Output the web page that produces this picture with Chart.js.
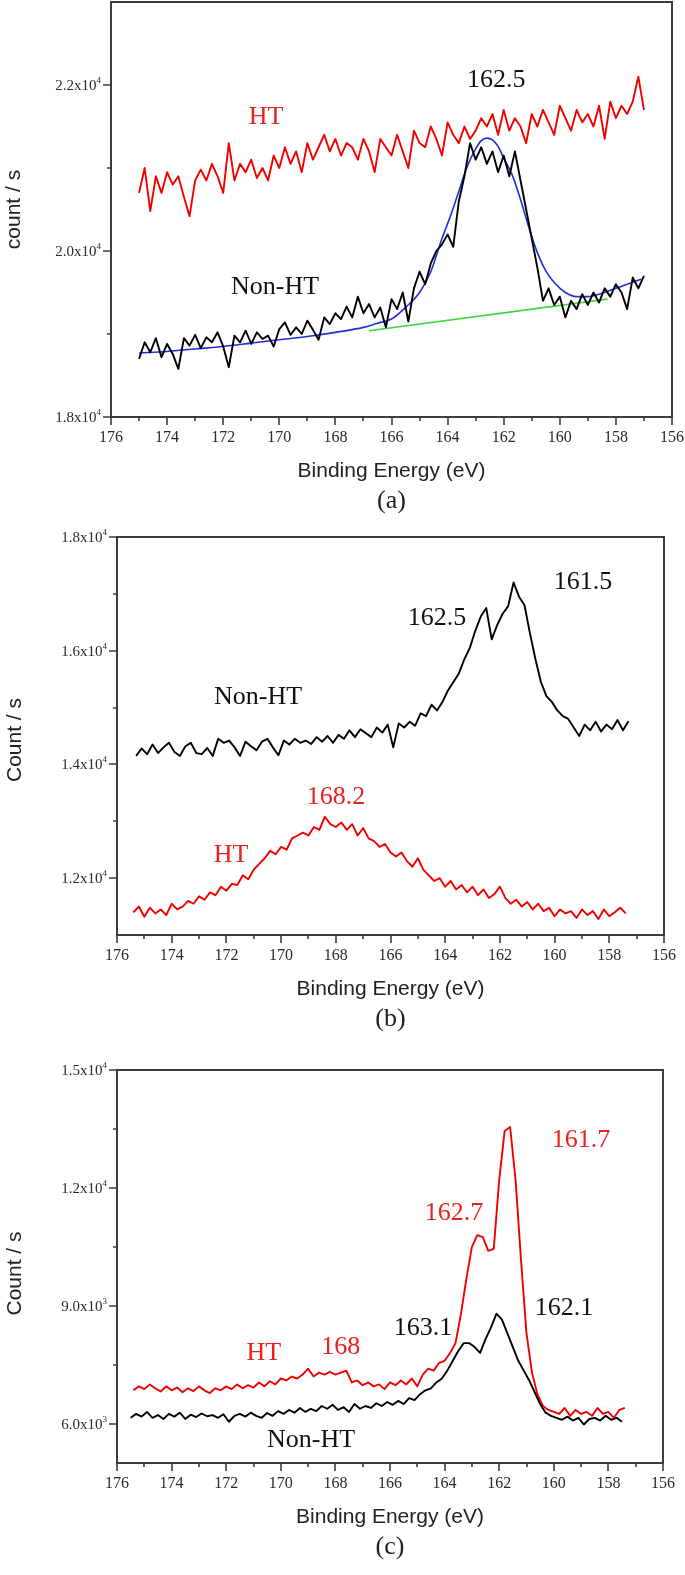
<!DOCTYPE html>
<html><head><meta charset="utf-8">
<script src="https://cdn.jsdelivr.net/npm/chart.js@4.4.0/dist/chart.umd.min.js"></script>
<style>
html,body{margin:0;padding:0;background:#fff;}
#wrap{position:relative;width:685px;height:1575px;}
canvas{position:absolute;left:0;}
</style></head><body>
<div id="wrap">
<canvas id="ca" width="685" height="520" style="top:0px"></canvas>
<canvas id="cb" width="685" height="520" style="top:520px"></canvas>
<canvas id="cc" width="685" height="535" style="top:1040px"></canvas>
</div>
<script>
// ---------- shared axis ----------
const xMajorTicks = [176,174,172,170,168,166,164,162,160,158,156];
const xMinorTicks = [175,173,171,169,167,165,163,161,159,157];
const xTitle = 'Binding Energy (eV)';
const eStep = 0.2;

// ---------- panel (a) ----------
const aYMajor = [18000,20000,22000];
const aYLabels = ['1.8x10^4','2.0x10^4','2.2x10^4'];
const aYMinor = [19000,21000];
const aEStart = 175.0;
const aHT = [
20700,21000,20480,20900,20700,20950,20800,20900,20650,20420,
20850,20980,20850,21050,20900,20700,21300,20850,21050,20950,
21100,20880,21000,20850,21150,21000,21250,21050,21200,20950,
21300,21100,21250,21400,21200,21350,21150,21300,21250,21100,
21350,21200,20950,21350,21250,21150,21400,21200,21000,21450,
21300,21250,21500,21350,21150,21550,21400,21300,21500,21350,
21450,21600,21500,21650,21400,21700,21450,21600,21500,21300,
21650,21500,21700,21550,21400,21750,21600,21450,21700,21550,
21650,21500,21750,21350,21800,21600,21750,21650,21800,22100,
21700];
const aNonHT = [
18700,18900,18780,18950,18720,18880,18760,18580,18950,18860,
18990,18830,18960,18900,19020,18850,18600,18980,18900,19040,
18880,19020,18940,18980,18850,19060,19140,18990,19080,19000,
19160,19050,18930,19200,19120,19250,19180,19330,19200,19450,
19250,19360,19200,19320,19080,19420,19300,19500,19150,19550,
19750,19600,19850,20000,20080,20200,20050,20600,20900,21300,
21100,21250,21050,21200,20950,21150,20900,21200,20850,20500,
20150,19800,19400,19550,19350,19450,19200,19400,19300,19480,
19350,19500,19380,19550,19450,19600,19500,19300,19680,19550,
19700];
const aFitE = [175.0,174.0,173.0,172.0,171.0,170.0,169.0,168.0,167.0,166.5,166.0,165.5,165.0,164.6,164.2,163.9,163.6,163.3,163.0,162.8,162.6,162.4,162.2,162.0,161.7,161.4,161.1,160.8,160.5,160.2,159.8,159.4,159.0,158.5,158.0,157.5,157.1];
const aFit  = [18770,18790,18820,18850,18890,18930,18970,19020,19080,19130,19180,19320,19500,19750,20150,20420,20720,21020,21230,21330,21360,21340,21260,21120,20920,20620,20280,19980,19760,19620,19500,19450,19450,19490,19550,19610,19660];
const aBaseE = [166.8,158.3];
const aBase  = [19040,19420];

// ---------- panel (b) ----------
const bYMajor = [12000,14000,16000,18000];
const bYLabels = ['1.2x10^4','1.4x10^4','1.6x10^4','1.8x10^4'];
const bYMinor = [13000,15000,17000];
const bNonHTStart = 175.3;
const bNonHT = [
14150,14280,14180,14350,14200,14300,14380,14220,14150,14320,
14380,14200,14180,14290,14150,14450,14380,14420,14300,14150,
14400,14320,14250,14400,14450,14300,14160,14420,14350,14450,
14380,14420,14360,14480,14400,14500,14380,14520,14450,14600,
14480,14620,14550,14480,14650,14560,14700,14300,14720,14650,
14750,14680,14900,14850,15050,14950,15100,15300,15450,15600,
15850,16050,16350,16600,16750,16200,16450,16650,16780,17200,
16950,16800,16300,15850,15450,15200,15100,14950,14850,14800,
14650,14500,14700,14600,14750,14580,14700,14620,14780,14600,
14760];
const bHTStart = 175.4;
const bHT = [
11400,11500,11320,11480,11380,11450,11350,11550,11450,11500,
11600,11550,11680,11620,11750,11700,11850,11780,11900,11880,
12050,11980,12150,12250,12350,12480,12420,12550,12500,12700,
12750,12800,12750,12900,12850,13080,12950,12900,12980,12850,
12950,12750,12880,12700,12650,12550,12600,12450,12380,12450,
12300,12200,12350,12150,12050,11950,12000,11850,11950,11800,
11880,11750,11850,11700,11800,11650,11720,11850,11650,11550,
11620,11500,11580,11450,11550,11420,11480,11330,11450,11380,
11420,11300,11450,11350,11420,11280,11450,11330,11400,11480,
11380];

// ---------- panel (c) ----------
const cYMajor = [6000,9000,12000,15000];
const cYLabels = ['6.0x10^3','9.0x10^3','1.2x10^4','1.5x10^4'];
const cYMinor = [7500,10500,13500];
const cHTStart = 175.4;
const cHT = [
6850,6950,6880,7000,6900,6820,6950,6850,6920,6800,
6900,6830,6950,6850,6780,6900,6850,6950,6880,7000,
6900,6980,6920,7050,6950,7080,7000,7150,7100,7200,
7150,7250,7400,7200,7300,7250,7320,7250,7300,7350,
7050,7100,6980,7050,6950,7000,6880,7050,6980,7100,
7000,7150,6950,7250,7400,7350,7550,7600,7800,8050,
8800,9700,10500,10800,10750,10400,10450,12200,13450,13550,
12200,10150,8300,7300,6750,6450,6350,6300,6250,6400,
6200,6350,6250,6300,6200,6400,6250,6300,6150,6350,
6400];
const cNonHTStart = 175.5;
const cNonHT = [
6150,6250,6180,6300,6150,6220,6120,6250,6180,6280,
6120,6230,6170,6260,6190,6220,6150,6240,6050,6200,
6250,6180,6280,6200,6150,6270,6200,6320,6250,6350,
6280,6400,6300,6380,6320,6450,6380,6480,6350,6420,
6300,6500,6380,6450,6400,6520,6450,6550,6480,6580,
6500,6650,6600,6750,6850,6900,7050,7150,7350,7600,
7850,8050,8050,7950,7800,8150,8450,8800,8650,8300,
7950,7600,7350,7100,6800,6500,6280,6200,6150,6100,
6180,6080,6150,5980,6120,6150,6080,6200,6100,6150,
6050];

// ---------- annotations (text, energy, count, colour key) ----------
const annotA = [['162.5',162.27,22061,'k'],['HT',170.47,21615,'r'],['Non-HT',170.15,19567,'k']];
const annotB = [['161.5',158.96,17209,'k'],['162.5',164.30,16576,'k'],['Non-HT',170.84,15186,'k'],['168.2',167.99,13427,'r'],['HT',171.83,12407,'r']];
const annotC = [['161.7',159.0,13220,'r'],['162.7',163.66,11363,'r'],['162.1',159.63,8945,'k'],['163.1',164.79,8436,'k'],['168',167.8,7952,'r'],['HT',170.62,7800,'r'],['Non-HT',168.89,5585,'k']];

// ---------- helpers ----------
const RED = '#f20000', BLACK = '#000000', BLUE = '#1f2fd8', GREEN = '#3ad83a';
const TXT_RED = '#e8221c', TXT_BLACK = '#111111';
function grid(start, n){ const r=[]; for(let i=0;i<n;i++) r.push(+(start - i*eStep).toFixed(2)); return r; }
function pts(es, vs){ return vs.map((v,i)=>({x:es[i], y:v})); }
function series(data, color, extra){ return Object.assign({data, borderColor:color, borderWidth:1.9, pointRadius:0, fill:false, tension:0, borderJoinStyle:'round'}, extra||{}); }

const framePlugin = {
  id:'frame',
  afterDraw(chart){
    const p = chart.options.plugins.frame;
    const {ctx, chartArea:ca} = chart;
    const x = chart.scales.x, y = chart.scales.y;
    ctx.save();
    ctx.strokeStyle = '#3c3c3c';
    ctx.lineWidth = 2;
    ctx.strokeRect(ca.left, ca.top, ca.right-ca.left, ca.bottom-ca.top);
    ctx.lineWidth = 1.6;
    ctx.beginPath();
    xMajorTicks.forEach(v=>{const px=Math.round(x.getPixelForValue(v)); ctx.moveTo(px,ca.bottom); ctx.lineTo(px,ca.bottom+8);});
    xMinorTicks.forEach(v=>{const px=Math.round(x.getPixelForValue(v)); ctx.moveTo(px,ca.bottom); ctx.lineTo(px,ca.bottom+4);});
    p.yMajor.forEach(v=>{const py=Math.round(y.getPixelForValue(v)); ctx.moveTo(ca.left,py); ctx.lineTo(ca.left-8,py);});
    p.yMinor.forEach(v=>{const py=Math.round(y.getPixelForValue(v)); ctx.moveTo(ca.left,py); ctx.lineTo(ca.left-4,py);});
    ctx.stroke();
    // x tick labels
    ctx.fillStyle = '#2a2a2a';
    ctx.font = '16px "Liberation Serif", serif';
    ctx.textAlign = 'center'; ctx.textBaseline = 'middle';
    xMajorTicks.forEach(v=>ctx.fillText(String(v), x.getPixelForValue(v), ca.bottom+21));
    // y tick labels with superscript
    p.yMajor.forEach((v,i)=>{
      const parts = p.yLabels[i].split('^');
      const py = y.getPixelForValue(v);
      const right = ca.left - 10;
      ctx.font = '9px "Liberation Serif", serif';
      const we = ctx.measureText(parts[1]).width;
      ctx.textAlign = 'right'; ctx.textBaseline = 'alphabetic';
      ctx.fillText(parts[1], right, py - 2);
      ctx.font = '15px "Liberation Serif", serif';
      ctx.fillText(parts[0], right - we, py + 5);
    });
    // axis titles
    ctx.fillStyle = '#222';
    ctx.font = '21px "Liberation Sans", Arial, sans-serif';
    ctx.textAlign = 'center'; ctx.textBaseline = 'middle';
    const cx = (ca.left+ca.right)/2;
    ctx.fillText(xTitle, cx, ca.bottom+54);
    ctx.save();
    ctx.translate(p.yTitleX, (ca.top+ca.bottom)/2 + p.yTitleDy);
    ctx.rotate(-Math.PI/2);
    ctx.fillText(p.yTitle, 0, 0);
    ctx.restore();
    ctx.font = '26px "Liberation Serif", serif';
    ctx.fillText(p.letter, cx, ca.bottom+84);
    // annotations
    ctx.font = '26px "Liberation Serif", serif';
    p.annot.forEach(a=>{
      ctx.fillStyle = a[3]==='r' ? TXT_RED : TXT_BLACK;
      ctx.fillText(a[0], x.getPixelForValue(a[1]), y.getPixelForValue(a[2]));
    });
    ctx.restore();
  }
};

function makeChart(id, datasets, yMin, yMax, pad, frame){
  return new Chart(document.getElementById(id), {
    type:'line',
    data:{datasets},
    options:{
      responsive:false, animation:false, devicePixelRatio:1,
      layout:{padding:pad},
      scales:{
        x:{type:'linear', reverse:true, min:156, max:176, display:false},
        y:{type:'linear', min:yMin, max:yMax, display:false}
      },
      plugins:{legend:{display:false}, tooltip:{enabled:false}, frame}
    },
    plugins:[framePlugin]
  });
}

// panel a
const aE = grid(aEStart, aHT.length);
makeChart('ca', [
  series(pts(aE, aHT), RED),
  series(pts(aE, aNonHT), BLACK),
  series(pts(aBaseE, aBase), GREEN, {borderWidth:1.6}),
  series(pts(aFitE, aFit), BLUE, {cubicInterpolationMode:'monotone', borderWidth:1.6})
], 18000, 23000, {left:111, right:13, top:2, bottom:103},
  {yMajor:aYMajor, yLabels:aYLabels, yMinor:aYMinor, yTitle:'count / s', yTitleX:14, yTitleDy:0, letter:'(a)', annot:annotA});

// panel b
makeChart('cb', [
  series(pts(grid(bNonHTStart, bNonHT.length), bNonHT), BLACK),
  series(pts(grid(bHTStart, bHT.length), bHT), RED)
], 11000, 18000, {left:117, right:21, top:17, bottom:105},
  {yMajor:bYMajor, yLabels:bYLabels, yMinor:bYMinor, yTitle:'Count / s', yTitleX:15, yTitleDy:4, letter:'(b)', annot:annotB});

// panel c
makeChart('cc', [
  series(pts(grid(cNonHTStart, cNonHT.length), cNonHT), BLACK),
  series(pts(grid(cHTStart, cHT.length), cHT), RED)
], 5000, 15000, {left:117, right:22, top:30, bottom:112},
  {yMajor:cYMajor, yLabels:cYLabels, yMinor:cYMinor, yTitle:'Count / s', yTitleX:15, yTitleDy:7, letter:'(c)', annot:annotC});
</script>
</body></html>
